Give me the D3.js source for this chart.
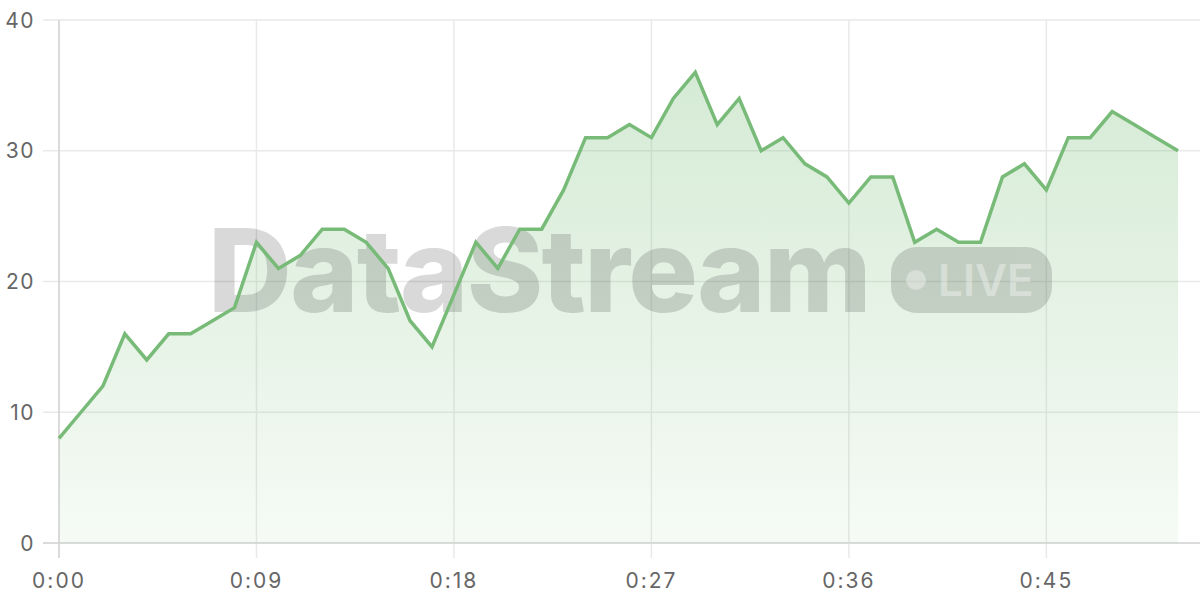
<!DOCTYPE html>
<html><head><meta charset="utf-8">
<script src="https://cdn.jsdelivr.net/npm/d3@7"></script>
<style>html,body{margin:0;padding:0;background:#fff;}svg{display:block;}</style>
</head><body><svg id="c" width="1200" height="600"></svg>
<script>
const seconds = d3.range(0, 52);
const values = [8,10,12,16,14,16,16,17,18,23,21,22,24,24,23,21,17,15,19,23,21,24,24,27,31,31,32,31,34,36,32,34,30,31,29,28,26,28,28,23,24,23,23,28,29,27,31,31,33,32,31,30];
const xTicks = [0,9,18,27,36,45];
const yTicks = [0,10,20,30,40];
const data = seconds.map((s,i)=>({s, v: values[i]}));

const svg = d3.select("#c");
const x = d3.scaleLinear().domain([0,51]).range([59,1178]);
const y = d3.scaleLinear().domain([0,40]).range([543,20]);
const fmt = s => Math.floor(s/60) + ":" + String(s%60).padStart(2,"0");
const FONT = "Inter, 'DejaVu Sans', sans-serif";

const defs = svg.append("defs");
const g = defs.append("linearGradient").attr("id","ag")
  .attr("gradientUnits","userSpaceOnUse").attr("x1",0).attr("x2",0).attr("y1",y(36)).attr("y2",y(0));
g.append("stop").attr("offset","0%").attr("stop-color","#7cbf7c").attr("stop-opacity",0.32);
g.append("stop").attr("offset","100%").attr("stop-color","#7cbf7c").attr("stop-opacity",0.07);

// grid
svg.append("g").selectAll("line").data(yTicks).join("line")
  .attr("x1",43).attr("x2",1200).attr("y1",d=>y(d)).attr("y2",d=>y(d))
  .attr("stroke","#e9e9e9").attr("stroke-width",1.5);
svg.append("g").selectAll("line").data(xTicks).join("line")
  .attr("x1",d=>x(d)).attr("x2",d=>x(d)).attr("y1",20).attr("y2",558)
  .attr("stroke","#e9e9e9").attr("stroke-width",1.5);

// axes lines
svg.append("line").attr("x1",59).attr("x2",59).attr("y1",20).attr("y2",558).attr("stroke","#d4d4d4").attr("stroke-width",1.5);
svg.append("line").attr("x1",43).attr("x2",1200).attr("y1",543).attr("y2",543).attr("stroke","#d4d4d4").attr("stroke-width",1.5);

// area
svg.append("path").datum(data).attr("fill","url(#ag)")
  .attr("d", d3.area().x(d=>x(d.s)).y0(y(0)).y1(d=>y(d.v)));

// watermark
const wm = svg.append("g").attr("opacity",0.17);
wm.append("text").attr("x",208).attr("y",312).attr("font-family",FONT)
  .attr("font-weight",800).attr("font-size",116).attr("letter-spacing",-1.5).attr("fill","#222")
  .attr("textLength",662).attr("lengthAdjust","spacing").text("DataStream");
wm.append("rect").attr("x",891).attr("y",247).attr("width",161).attr("height",66).attr("rx",26).attr("fill","#222");
svg.append("circle").attr("cx",916).attr("cy",280).attr("r",10).attr("fill","#fff").attr("opacity",0.35);
svg.append("text").attr("x",938).attr("y",296).attr("font-family",FONT)
  .attr("font-weight",600).attr("font-size",44).attr("fill","#fff").attr("opacity",0.35).text("LIVE");

// line
svg.append("path").datum(data).attr("fill","none").attr("stroke","#78bb78").attr("stroke-width",3.5)
  .attr("stroke-linejoin","miter").attr("d", d3.line().x(d=>x(d.s)).y(d=>y(d.v)));

// labels
svg.append("g").selectAll("text").data(yTicks).join("text")
  .attr("x",35).attr("y",d=>y(d)).attr("dy","0.36em").attr("text-anchor","end")
  .attr("font-family",FONT).attr("font-size",21).attr("letter-spacing",1.5).attr("fill","#666").text(d=>d);
svg.append("g").selectAll("text").data(xTicks).join("text")
  .attr("x",d=>x(d)).attr("y",588).attr("text-anchor","middle")
  .attr("font-family",FONT).attr("font-size",21).attr("letter-spacing",2).attr("fill","#666").text(d=>fmt(d));
</script></body></html>
